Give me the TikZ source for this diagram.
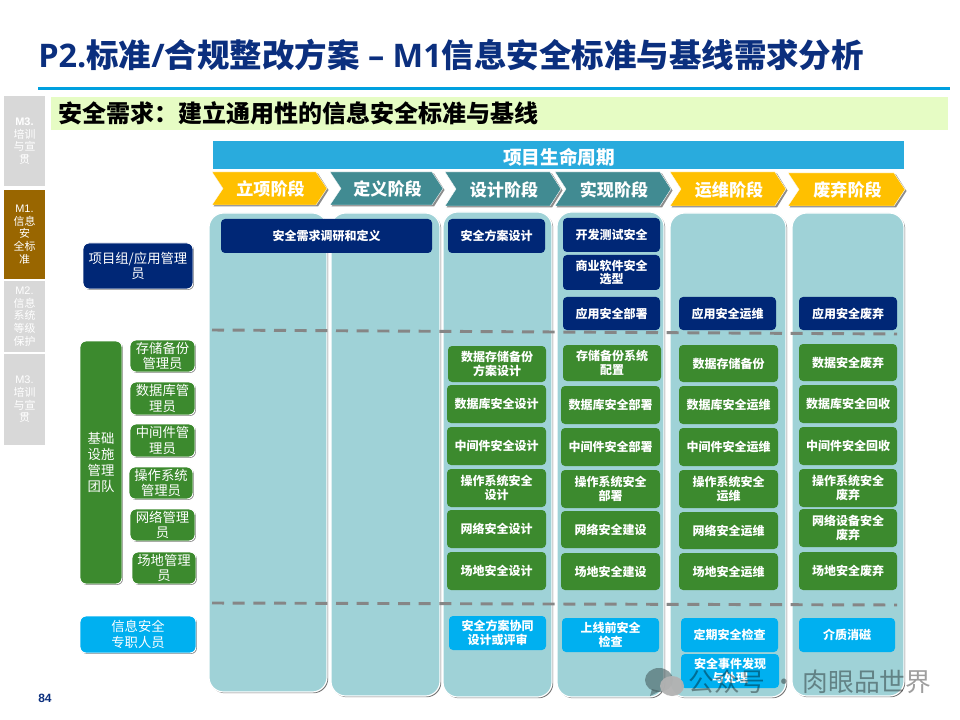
\documentclass[tikz,border=0pt]{standalone}
\usepackage{fontspec}
\usetikzlibrary{shadows}
\setmainfont{Noto Sans CJK SC}
\newfontfamily\latinbold{Open Sans}
\newfontfamily\arialfont{Liberation Sans}
\definecolor{navy}{HTML}{002776}
\definecolor{titleblue}{HTML}{0B2F7E}
\definecolor{leaf}{HTML}{3C8A2E}
\definecolor{sky}{HTML}{00B0F0}
\definecolor{cyanbar}{HTML}{29ABDD}
\definecolor{rule}{HTML}{00A0DF}
\definecolor{teal}{HTML}{9FD2D7}
\definecolor{tealdark}{HTML}{418B92}
\definecolor{amber}{HTML}{FFC000}
\definecolor{brownm}{HTML}{996600}
\definecolor{side}{HTML}{D8D8D8}
\definecolor{lime}{HTML}{E6FCC4}
\definecolor{dash}{HTML}{868686}
\newcommand{\fz}[2]{\fontsize{#1pt}{#2pt}\selectfont}
\newcommand{\bx}[7]{\node[#1,minimum width={(#5-#3)*0.75pt},minimum height={(#6-#4)*0.75pt},text width={(#5-#3)*0.75pt-2pt}] (#2) at ({(#3+#5)/2},{(#4+#6)/2}) {#7};}
\newcommand{\chev}[7]{% name, fill, x1, y1, x2, y2, text
  \path[fill=black!45] (#3+1.5,#4+1.5) -- (#5-9,#4+1.5) -- (#5+1.5,{(#4+#6)/2+1.5}) -- (#5-9,#6+1.5) -- (#3+1.5,#6+1.5) -- (#3+12,{(#4+#6)/2+1.5}) -- cycle;
  \path[fill=#2,draw=white,line width=.3pt] (#3,#4) -- (#5-11,#4) -- (#5,{(#4+#6)/2}) -- (#5-11,#6) -- (#3,#6) -- (#3+11,{(#4+#6)/2}) -- cycle;
  \node[text=white,font=\bfseries\fz{12.8}{15},inner sep=0pt] (#1) at ({(#3+#5)/2+1},{(#4+#6)/2+.7}) {#7};}
\tikzset{
  x=0.75pt,y=-0.75pt,
  colbox/.style={draw=white,line width=.9pt,fill=teal,rounded corners=11pt,inner sep=0pt,
    drop shadow={shadow xshift=.9pt,shadow yshift=-.9pt,fill=black!55,opacity=1}},
  rolebase/.style={draw=white,line width=.7pt,rounded corners=4.5pt,inner sep=0pt,align=center,text=white,
    font=\fz{10}{11.8},drop shadow={shadow xshift=.7pt,shadow yshift=-.7pt,fill=black!50,opacity=1}},
  rolenavy/.style={rolebase,fill=navy},
  rolegreen/.style={rolebase,fill=leaf},
  rolesky/.style={rolebase,fill=sky},
  taskbase/.style={rounded corners=3pt,inner sep=0pt,align=center,text=white,font=\bfseries\fz{9}{10.4}},
  tasknavy/.style={taskbase,fill=navy},
  taskgreen/.style={taskbase,fill=leaf},
  tasksky/.style={taskbase,fill=sky},
  sidebase/.style={inner sep=0pt,align=center,text=white,font=\fz{8.2}{9.5}},
  sidegrey/.style={sidebase,fill=side},
  sidebrown/.style={sidebase,fill=brownm},
  divider/.style={draw=dash,line width=2.2pt,dash pattern=on 9pt off 6.5pt},
}
\begin{document}
\begin{tikzpicture}
\useasboundingbox (0,0) rectangle (960,720);
\fill[white] (0,0) rectangle (960,720);
% title
\node[anchor=base west,inner sep=0pt,text=titleblue,font=\bfseries\fz{24.35}{28}] (title) at (38,68) {{\latinbold\bfseries P2.}标准{\latinbold\bfseries /}合规整改方案{\latinbold\bfseries{} – M1}信息安全标准与基线需求分析};
\fill[rule] (38,87) rectangle (950,90);
% banner
\node[fill=lime,minimum width={897*0.75pt},minimum height={33*0.75pt},inner sep=0pt] (banner) at (499.5,113.5) {};
\node[anchor=west,inner sep=0pt,font=\bfseries\fz{18}{20},text=black] (bannertext) at (58,113.5) {安全需求：建立通用性的信息安全标准与基线};
% side tabs
\bx{sidegrey}{sa}{4}{96}{45}{186}{\textbf{\arialfont M3.}\\培训\\与宣\\贯}
\bx{sidebrown}{sb}{4}{190}{45}{279}{{\arialfont M1.}\\信息\\安\\全标\\准}
\bx{sidegrey}{sc}{4}{281}{45}{352}{{\arialfont M2.}\\信息\\系统\\等级\\保护}
\bx{sidegrey}{sd}{4}{354}{45}{445}{{\arialfont M3.}\\培训\\与宣\\贯}
% header
\node[fill=cyanbar,minimum width={691*0.75pt},minimum height={28*0.75pt},inner sep=0pt] (life) at (558.5,155) {};
\node[text=white,font=\bfseries\fz{14}{16},inner sep=0pt] (lifetext) at (559,157) {项目生命周期};
% columns
\bx{colbox}{ca}{209}{213}{327}{692}{}
\bx{colbox}{cb}{331}{213}{440}{696}{}
\bx{colbox}{cc}{443}{212}{552}{697}{}
\bx{colbox}{cd}{557}{212}{664}{697}{}
\bx{colbox}{ce}{670}{213}{786}{697}{}
\bx{colbox}{cf}{792}{213}{904}{696}{}
% chevrons
\chev{pa}{amber}{212}{172}{327}{205}{立项阶段}
\chev{pb}{tealdark}{330}{172}{443}{205}{定义阶段}
\chev{pc}{tealdark}{445}{172}{561}{206}{设计阶段}
\chev{pd}{tealdark}{555}{172}{671}{206}{实现阶段}
\chev{pe}{amber}{670}{172}{786}{206}{运维阶段}
\chev{pf}{amber}{788}{173}{905}{206}{废弃阶段}
% roles
\bx{rolenavy}{ra}{83}{243}{193}{289}{项目组/应用管理\\员}
\bx{rolegreen}{rb}{80}{341}{122}{584}{基础\\设施\\管理\\团队}
\bx{rolegreen}{rc}{130}{340}{195}{372}{存储备份\\管理员}
\bx{rolegreen}{rd}{130}{382}{195}{415}{数据库管\\理员}
\bx{rolegreen}{re}{130}{424}{195}{457}{中间件管\\理员}
\bx{rolegreen}{rf}{129}{467}{193}{499}{操作系统\\管理员}
\bx{rolegreen}{rg}{130}{509}{195}{541}{网络管理\\员}
\bx{rolegreen}{rh}{132}{552}{196}{584}{场地管理\\员}
\bx{rolesky}{ri}{80}{616}{196}{653}{信息安全\\专职人员}
% navy tasks
\bx{tasknavy}{t1}{221}{219}{432}{253}{安全需求调研和定义}
\bx{tasknavy}{t2}{448}{219}{545}{253}{安全方案设计}
\bx{tasknavy}{t3}{563}{218}{660}{252}{开发测试安全}
\bx{tasknavy}{t4}{563}{255}{660}{290}{商业软件安全\\选型}
\bx{tasknavy}{t5}{563}{297}{660}{330}{应用安全部署}
\bx{tasknavy}{t6}{679}{297}{776}{330}{应用安全运维}
\bx{tasknavy}{t7}{799}{297}{897}{330}{应用安全废弃}
% green tasks
\bx{taskgreen}{g11}{448}{346}{546}{382}{数据存储备份\\方案设计}
\bx{taskgreen}{g12}{447}{385}{546}{423}{数据库安全设计}
\bx{taskgreen}{g13}{447}{427}{546}{465}{中间件安全设计}
\bx{taskgreen}{g14}{447}{469}{546}{507}{操作系统安全\\设计}
\bx{taskgreen}{g15}{447}{510}{546}{548}{网络安全设计}
\bx{taskgreen}{g16}{447}{552}{546}{590}{场地安全设计}
\bx{taskgreen}{g21}{563}{345}{661}{381}{存储备份系统\\配置}
\bx{taskgreen}{g22}{561}{386}{660}{424}{数据库安全部署}
\bx{taskgreen}{g23}{561}{428}{660}{466}{中间件安全部署}
\bx{taskgreen}{g24}{561}{470}{660}{508}{操作系统安全\\部署}
\bx{taskgreen}{g25}{561}{511}{660}{548}{网络安全建设}
\bx{taskgreen}{g26}{561}{553}{660}{590}{场地安全建设}
\bx{taskgreen}{g31}{679}{345}{778}{382}{数据存储备份}
\bx{taskgreen}{g32}{679}{386}{778}{424}{数据库安全运维}
\bx{taskgreen}{g33}{679}{428}{778}{466}{中间件安全运维}
\bx{taskgreen}{g34}{679}{470}{778}{508}{操作系统安全\\运维}
\bx{taskgreen}{g35}{679}{512}{778}{549}{网络安全运维}
\bx{taskgreen}{g36}{679}{553}{778}{590}{场地安全运维}
\bx{taskgreen}{g41}{799}{344}{897}{381}{数据安全废弃}
\bx{taskgreen}{g42}{799}{385}{897}{423}{数据库安全回收}
\bx{taskgreen}{g43}{799}{427}{897}{465}{中间件安全回收}
\bx{taskgreen}{g44}{799}{469}{897}{507}{操作系统安全\\废弃}
\bx{taskgreen}{g45}{799}{509}{897}{547}{网络设备安全\\废弃}
\bx{taskgreen}{g46}{799}{552}{897}{590}{场地安全废弃}
% sky tasks
\bx{tasksky}{s1}{449}{616}{546}{650}{安全方案协同\\设计或评审}
\bx{tasksky}{s2}{562}{618}{659}{652}{上线前安全\\检查}
\bx{tasksky}{s3}{681}{618}{778}{652}{定期安全检查}
\bx{tasksky}{s4}{681}{654}{779}{688}{安全事件发现\\与处理}
\bx{tasksky}{s5}{799}{618}{895}{652}{介质消磁}
% dividers
\coordinate (d1a) at (212,330); \coordinate (d1b) at (897,334);
\coordinate (d2a) at (212,603); \coordinate (d2b) at (897,605);
\draw[divider] (d1a) -- (d1b);
\draw[divider] (d2a) -- (d2b);
% page number
\node[inner sep=0pt,text=titleblue,font=\bfseries\fz{9}{10}] (page) at (45,698) {{\arialfont\bfseries 84}};
% watermark
\fill[black!55!teal,opacity=.6] (659,680) ellipse [x radius=14,y radius=12];
\fill[black!55!teal,opacity=.6] (652,689) -- (650,696) -- (660,691) -- cycle;
\fill[white!70!black,opacity=.95] (672,686) ellipse [x radius=12,y radius=10];
\node[anchor=west,inner sep=0pt,text=black,opacity=.38,font=\fz{19.3}{22}] (mark) at (688,681.5) {公众号 · 肉眼品世界};
\end{tikzpicture}
\end{document}
